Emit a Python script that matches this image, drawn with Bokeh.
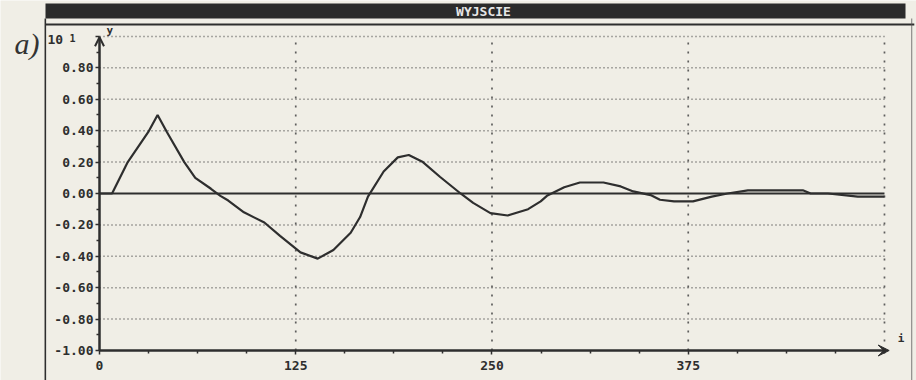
from bokeh.plotting import figure
from bokeh.models import (Range1d, LinearAxis, FixedTicker, PrintfTickFormatter, Arrow,
                          VeeHead, OpenHead, Label, BoxAnnotation, ColumnDataSource)
from bokeh.embed import file_html
from bokeh.resources import INLINE

# ---- data ----
i_vals = [0, 8, 18, 31, 37, 43, 54, 61, 71, 77, 82, 92, 105, 115, 128, 139, 149, 160, 166,
          171, 181, 190, 197, 206, 217, 230, 238, 249, 260, 273, 281, 285, 296, 306, 321, 332,
          340, 351, 357, 366, 378, 390, 400, 413, 448, 453, 464, 483, 500]
y_vals = [0.0, 0.0, 0.20, 0.39, 0.50, 0.39, 0.20, 0.10, 0.03, -0.015, -0.045, -0.12, -0.185,
          -0.27, -0.375, -0.415, -0.36, -0.25, -0.15, -0.02, 0.14, 0.23, 0.245, 0.20, 0.105,
          0.0, -0.06, -0.125, -0.14, -0.10, -0.05, -0.015, 0.04, 0.07, 0.07, 0.045, 0.013,
          -0.01, -0.04, -0.05, -0.05, -0.02, 0.0, 0.02, 0.02, 0.0, 0.0, -0.02, -0.02]

x_major = [0, 125, 250, 375]
x_minor = [31.25, 62.5, 93.75, 156.25, 187.5, 218.75, 281.25, 312.5, 343.75,
           406.25, 437.5, 468.75, 500]
y_major = [-1.0, -0.8, -0.6, -0.4, -0.2, 0.0, 0.2, 0.4, 0.6, 0.8, 1.0]
y_minor = [-0.9, -0.7, -0.5, -0.3, -0.1, 0.1, 0.3, 0.5, 0.7, 0.9]
grid_y = [-0.8, -0.6, -0.4, -0.2, 0.2, 0.4, 0.6, 0.8, 1.0]
grid_x = [125, 250, 375, 500]
x_end = 500
title_text = "WYJSCIE"
panel_label = "a)"

INK = "#2e2e2e"
BG = "#f0eee6"
MONO = "DejaVu Sans Mono"

p = figure(width=916, height=380, output_backend="svg", toolbar_location=None,
           x_range=Range1d(-63.06, 520.4), y_range=Range1d(-1.191, 1.229),
           x_axis_type=None, y_axis_type=None,
           min_border_left=0, min_border_right=0, min_border_top=0, min_border_bottom=0)
p.background_fill_color = BG
p.border_fill_color = BG
p.outline_line_color = None

# grid (dotted), limited to the plotting area of the original
gh = ColumnDataSource(dict(y=grid_y, x0=[x_major[0]] * len(grid_y), x1=[x_end] * len(grid_y)))
p.segment(x0="x0", x1="x1", y0="y", y1="y", source=gh, line_color="#444444",
          line_width=1.5, line_dash="1 3", line_alpha=0.85)
gv = ColumnDataSource(dict(x=grid_x, y0=[y_major[0]] * len(grid_x), y1=[y_major[-1]] * len(grid_x)))
p.segment(x0="x", x1="x", y0="y0", y1="y1", source=gv, line_color="#444444",
          line_width=1.7, line_dash="2 7", line_alpha=0.85)

# zero line
zs = ColumnDataSource(dict(x0=[x_major[0]], x1=[x_end], y=[0.0]))
p.segment(x0="x0", x1="x1", y0="y", y1="y", source=zs, line_color=INK, line_width=2)

# the response curve
p.line(i_vals, y_vals, line_color=INK, line_width=2.2)

# axes
def style(ax):
    ax.axis_line_width = 2
    ax.axis_line_color = INK
    ax.major_tick_line_color = INK
    ax.minor_tick_line_color = INK
    ax.major_tick_line_width = 1.5
    ax.minor_tick_line_width = 1.5
    ax.major_tick_in = 0
    ax.major_tick_out = 4
    ax.minor_tick_in = 0
    ax.minor_tick_out = 3
    ax.major_label_text_font = MONO
    ax.major_label_text_font_style = "bold"
    ax.major_label_text_font_size = "13px"
    ax.major_label_text_color = INK

yax = LinearAxis(fixed_location=0, bounds=(-1, 1),
                 ticker=FixedTicker(ticks=y_major, minor_ticks=y_minor),
                 formatter=PrintfTickFormatter(format="%.2f"))
style(yax)
yax.major_label_standoff = 2
yax.major_label_overrides = {1.0: ""}
p.add_layout(yax, "left")

xax = LinearAxis(fixed_location=-1, bounds=(0, x_end),
                 ticker=FixedTicker(ticks=x_major, minor_ticks=x_minor))
style(xax)
xax.major_label_standoff = 6
p.add_layout(xax, "below")

# arrows on axes
p.add_layout(Arrow(end=VeeHead(size=11, fill_color=INK, line_color=INK),
                   x_start=0, y_start=-1, x_end=503, y_end=-1,
                   line_color=INK, line_width=2))
p.add_layout(Arrow(end=OpenHead(size=9, line_color=INK, line_width=2),
                   x_start=0, y_start=-1, x_end=0, y_end=0.995,
                   line_color=INK, line_width=2))

# window decoration: title bar and borders
p.add_layout(BoxAnnotation(left=-34.4, right=513.4, bottom=1.115, top=1.210,
                           fill_color="#2b2b2b", fill_alpha=1, line_color=None))
p.add_layout(Label(x=244.6, y=1.162, text=title_text, text_align="center", text_baseline="middle",
                   text_color="#e6e6e6", text_font=MONO, text_font_style="bold",
                   text_font_size="13px"))
p.add_layout(BoxAnnotation(left=-34.4, right=519.0, bottom=1.070, top=1.083,
                           fill_color=INK, fill_alpha=1, line_color=None))
p.add_layout(BoxAnnotation(left=-35.0, right=-34.0, top=1.115,
                           fill_color=INK, fill_alpha=1, line_color=None))
p.add_layout(BoxAnnotation(left=517.0, right=517.7, top=1.115,
                           fill_color="#555555", fill_alpha=0.7, line_color=None))

# small texts
p.add_layout(Label(x=-33.1, y=0.949, text="10", text_font=MONO, text_font_style="bold",
                   text_font_size="13px", text_color=INK))
p.add_layout(Label(x=-19.1, y=0.962, text="1", text_font=MONO, text_font_style="bold",
                   text_font_size="10px", text_color=INK))
p.add_layout(Label(x=4.5, y=0.994, text="y", text_font=MONO, text_font_style="bold",
                   text_font_size="11px", text_color=INK))
p.add_layout(Label(x=508.5, y=-0.968, text="i", text_font=MONO, text_font_style="bold",
                   text_font_size="11px", text_color=INK))
p.add_layout(Label(x=-54.1, y=0.958, text=panel_label, text_font="Liberation Serif",
                   text_font_style="italic", text_font_size="30px", text_color="#333333",
                   text_baseline="alphabetic"))

open("out.html", "w").write(file_html(p, INLINE))
